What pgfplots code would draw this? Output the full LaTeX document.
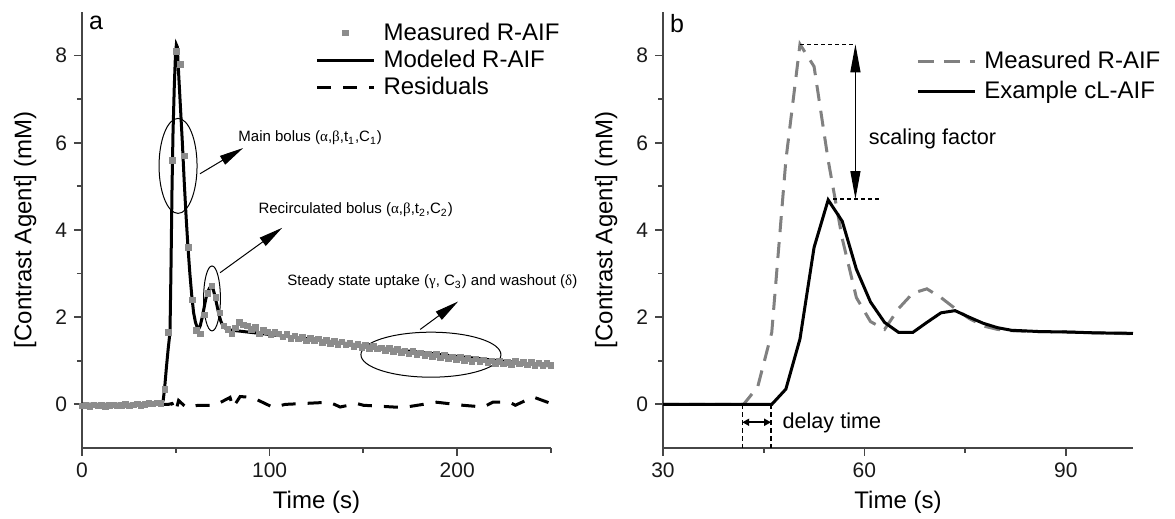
\documentclass[border=0pt]{standalone}
\usepackage{pgfplots}
\pgfplotsset{compat=1.18}
\usepackage{fontspec}
\setmainfont{Liberation Sans}
\newfontfamily\grk{Liberation Serif}
\usetikzlibrary{arrows.meta}
\definecolor{meas}{RGB}{140,140,140}
\definecolor{measb}{RGB}{128,128,128}
\definecolor{axc}{RGB}{70,70,70}
\pgfplotsset{
 myax/.style={
  scale only axis, width=234.5pt, height=218pt,
  axis lines=left, axis line style={-, draw=axc, line width=0.9pt},
  ymin=-1, ymax=9, ytick={0,2,4,6,8}, minor ytick={1,3,5,7},
  tick align=outside, major tick length=4pt, minor tick length=2.5pt,
  every tick/.style={draw=axc, line width=0.9pt},
  tick label style={font=\fontsize{10.5}{12}\selectfont, text=black!90},
  label style={font=\fontsize{12}{14}\selectfont},
  /pgf/number format/assume math mode=true,
  ylabel={[Contrast Agent] (mM)}, xlabel={Time (s)},
  ylabel style={at={(axis description cs:-0.121,0.5)}, anchor=center},
  xlabel style={at={(axis description cs:0.5,-0.124)}, anchor=center},
  clip=false,
  legend style={draw=none, fill=none, font=\fontsize{12}{14}\selectfont, anchor=north west, inner sep=0pt, outer sep=0pt, nodes={inner sep=1pt}, /tikz/column sep=3pt},
  legend cell align=left,
  legend image code/.code={\draw[mark repeat=2,mark phase=2,##1] plot coordinates {(0pt,0pt) (14.25pt,0pt) (28.5pt,0pt)};},
 }
}
\begin{document}
\begin{tikzpicture}
\path[use as bounding box] (0,0) rectangle (587.5pt,259.5pt);
% ---------------- panel a
\begin{axis}[myax, at={(41pt,35.5pt)}, anchor=south west,
  xmin=0, xmax=250, xtick={0,100,200}, minor xtick={50,150,250},
  legend style={at={(axis description cs:0.498,0.980)}, /tikz/row sep=1.5pt}]
\addplot[only marks, mark=square*, mark size=1.4pt, color=meas] coordinates {
(0,-0.03)(2.1,-0.02)(4.2,-0.04)(6.3,-0.01)(8.4,-0.03)(10.5,-0.02)(12.6,-0.04)(14.7,-0.02)(16.8,-0.01)(18.9,-0.03)
(21.0,-0.02)(23.1,0.00)(25.2,-0.03)(27.3,-0.01)(29.4,0.01)(31.5,-0.02)(33.6,0.00)(35.7,0.02)(37.8,0.01)(39.9,0.03)
(42.0,0.02)(44.1,0.35)(46.2,1.65)(48.3,5.60)(50.4,8.10)(52.5,7.80)(54.6,5.70)(56.7,3.60)(58.8,2.40)(60.9,1.70)
(63.0,1.62)(65.1,2.05)(67.2,2.55)(69.3,2.72)(71.4,2.45)(73.5,2.10)(75.6,1.80)(77.7,1.72)(79.8,1.62)(81.9,1.75)
(84.0,1.88)(86.1,1.82)(88.2,1.80)(90.3,1.72)(92.4,1.76)(94.5,1.62)(96.6,1.70)(98.7,1.66)(100.8,1.60)(102.9,1.65)
(105.0,1.62)(107.1,1.55)(109.2,1.60)(111.3,1.52)(113.4,1.57)(115.5,1.50)(117.6,1.54)(119.7,1.46)(121.8,1.52)(123.9,1.47)
(126.0,1.50)(128.1,1.42)(130.2,1.47)(132.3,1.40)(134.4,1.44)(136.5,1.38)(138.6,1.43)(140.7,1.36)(142.8,1.40)(144.9,1.33)
(147.0,1.38)(149.1,1.31)(151.2,1.35)(153.3,1.28)(155.4,1.33)(157.5,1.27)(159.6,1.30)(161.7,1.24)(163.8,1.28)(165.9,1.21)
(168.0,1.26)(170.1,1.19)(172.2,1.23)(174.3,1.16)(176.4,1.21)(178.5,1.14)(180.6,1.18)(182.7,1.12)(184.8,1.16)(186.9,1.10)
(189.0,1.14)(191.1,1.07)(193.2,1.12)(195.3,1.05)(197.4,1.09)(199.5,1.03)(201.6,1.08)(203.7,1.01)(205.8,1.05)(207.9,0.99)
(210.0,1.04)(212.1,0.98)(214.2,1.02)(216.3,0.96)(218.4,1.00)(220.5,0.94)(222.6,0.99)(224.7,0.93)(226.8,0.97)(228.9,0.92)
(231.0,0.98)(233.1,0.93)(235.2,0.97)(237.3,0.91)(239.4,0.96)(241.5,0.90)(243.6,0.95)(245.7,0.89)(247.8,0.94)(249.9,0.90)
};
\addlegendentry{Measured R-AIF}
\addplot[black, line width=1.5pt] coordinates {
(0,0)(42.5,0)(43.3,0.1)(44,0.35)(45,0.85)(46,1.3)(46.9,1.65)(47.4,3.0)(48,5.0)(48.5,6.2)(49.2,7.3)(49.8,8.0)(50.3,8.25)
(50.8,8.2)(51.5,7.6)(52.5,6.8)(53.5,6.0)(54.5,5.1)(55.5,4.3)(56.5,3.6)(57.5,3.0)(58.5,2.5)(59.5,2.1)(60.5,1.88)(61.5,1.76)
(62.3,1.74)(63,1.8)(64,1.98)(65,2.2)(66,2.42)(67,2.58)(68,2.67)(69,2.70)(70,2.63)(71,2.46)(72,2.26)(73,2.06)(74,1.91)
(75,1.81)(76,1.76)(77.5,1.72)(80,1.70)(105,1.58)(135,1.43)(164,1.27)(200,1.10)(250,0.88)
};
\addlegendentry{Modeled R-AIF}
\addplot[black, line width=1.5pt, dash pattern=on 7pt off 6pt] coordinates {
(0,0)(46,0)(48,0.02)(50,-0.16)(51.5,0.09)(55.5,-0.07)(62,-0.02)(70.9,-0.02)(78.9,0.16)(80.5,-0.07)(84.3,0.18)
(90.7,0.16)(97.6,0.02)(101.9,-0.07)(108.3,0.0)(132,0.05)(137.6,-0.06)(146.5,0.02)(150,-0.02)(166,-0.06)(173,-0.06)
(189,0.05)(203,-0.02)(214,-0.06)(219,0.05)(228,0.05)(231,-0.02)(240.5,0.17)(250,0.02)
};
\addlegendentry{Residuals}
% annotations
\draw[line width=0.5pt] (axis cs:51.2,5.47) ellipse [x radius=9.5pt, y radius=23.75pt];
\draw[line width=0.5pt] (axis cs:69.3,2.43) ellipse [x radius=4.2pt, y radius=16.25pt];
\draw[line width=0.5pt] (axis cs:186,1.14) ellipse [x radius=35pt, y radius=11.25pt];
\draw[line width=0.5pt, -{Triangle[length=12pt,width=5pt]}] (axis cs:62.9,5.29) -- (axis cs:85.9,5.88);
\draw[line width=0.5pt, -{Triangle[length=12pt,width=5pt]}] (axis cs:73.6,3.02) -- (axis cs:106.7,4.05);
\draw[line width=0.5pt, -{Triangle[length=12pt,width=5pt]}] (axis cs:180.3,1.72) -- (axis cs:200.5,2.36);
\node[anchor=west, inner sep=0pt, font=\fontsize{7.5}{9}\selectfont] at (axis cs:83.2,6.11)
  {Main bolus ({\grk α},{\grk β},t\textsubscript{1},C\textsubscript{1})};
\node[anchor=west, inner sep=0pt, font=\fontsize{7.5}{9}\selectfont] at (axis cs:93.9,4.46)
  {Recirculated bolus ({\grk α},{\grk β},t\textsubscript{2},C\textsubscript{2})};
\node[anchor=west, inner sep=0pt, font=\fontsize{7.5}{9}\selectfont] at (axis cs:109.3,2.81)
  {Steady state uptake ({\grk γ}, C\textsubscript{3}) and washout ({\grk δ})};
\node[font=\fontsize{12.5}{14}\selectfont, inner sep=0pt] at (axis cs:7.5,8.74) {a};
\end{axis}
% ---------------- panel b
\begin{axis}[myax, at={(331.5pt,35.5pt)}, anchor=south west, width=235pt,
  xmin=30, xmax=100, xtick={30,60,90}, minor xtick={45,75},
  legend style={at={(axis description cs:0.539,0.915)}, /tikz/row sep=3pt}]
\addplot[measb, line width=1.5pt, dash pattern=on 8pt off 5pt] coordinates {
(30,0)(42.0,0)(44.1,0.4)(46.2,1.65)(48.3,5.6)(50.4,8.26)(52.5,7.75)(54.6,5.6)(56.7,3.8)(58.8,2.45)(60.9,1.9)
(63.0,1.72)(65.1,2.2)(67.2,2.55)(69.3,2.65)(71.4,2.45)(73.5,2.2)(75.6,1.97)(77.7,1.8)(79.8,1.72)(81.9,1.69)
(86.1,1.67)(90.3,1.66)(94.5,1.64)(100,1.62)
};
\addlegendentry{Measured R-AIF}
\addplot[black, line width=1.5pt] coordinates {
(30,0)(46.2,0)(48.3,0.35)(50.4,1.5)(52.5,3.6)(54.6,4.69)(56.7,4.2)(58.8,3.1)(60.9,2.35)(63.0,1.88)(65.1,1.65)
(67.2,1.65)(69.3,1.88)(71.4,2.1)(73.5,2.15)(75.6,2.0)(77.7,1.86)(79.8,1.76)(81.9,1.70)(86.1,1.67)(90.3,1.66)
(94.5,1.64)(100,1.63)
};
\addlegendentry{Example cL-AIF}
% annotations
\draw[line width=0.7pt, dash pattern=on 2pt off 1.5pt] (axis cs:50.45,8.26) -- (axis cs:58.66,8.26);
\draw[line width=0.7pt, dash pattern=on 2pt off 1.5pt] (axis cs:55.37,4.71) -- (axis cs:62.4,4.71);
\draw[line width=0.6pt, {Triangle[length=14pt,width=5pt]}-{Triangle[length=14pt,width=5pt]}] (axis cs:58.66,8.26) -- (axis cs:58.66,4.71);
\node[anchor=west, inner sep=0pt, font=\fontsize{10.8}{13}\selectfont] at (axis cs:60.6,6.09) {scaling factor};
\draw[line width=0.7pt, dash pattern=on 2.5pt off 1.5pt] (axis cs:41.8,0) -- (axis cs:41.8,-1);
\draw[line width=0.7pt, dash pattern=on 2.5pt off 1.5pt] (axis cs:46.1,0) -- (axis cs:46.1,-1);
\draw[line width=0.9pt, {Triangle[length=3.5pt,width=3.5pt]}-{Triangle[length=3.5pt,width=3.5pt]}] (axis cs:41.8,-0.41) -- (axis cs:46.1,-0.41);
\node[anchor=west, inner sep=0pt, font=\fontsize{10.8}{13}\selectfont] at (axis cs:47.76,-0.43) {delay time};
\node[font=\fontsize{12.5}{14}\selectfont, inner sep=0pt] at (axis cs:32.1,8.74) {b};
\end{axis}
\end{tikzpicture}
\end{document}
